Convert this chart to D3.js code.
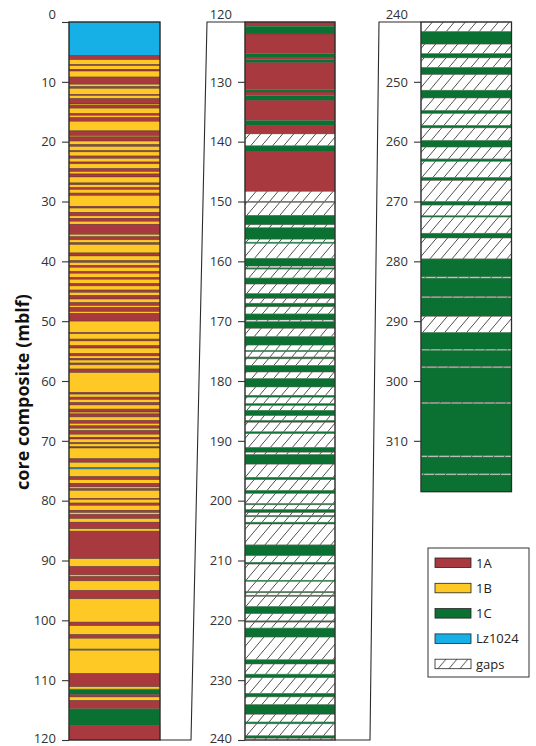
<!DOCTYPE html>
<html>
<head>
<meta charset="utf-8">
<script src="https://cdn.jsdelivr.net/npm/d3@7"></script>
<style>
  body { margin: 0; background: #fff; }
  svg { display: block; font-family: "Open Sans", sans-serif; }
</style>
</head>
<body>
<svg id="chart" width="536" height="746"></svg>
<script>
// lithostratigraphic units shown in the legend
const units = ["1A", "1B", "1C", "Lz1024", "gaps"];

// core segments: [top depth, bottom depth, unit]
const column1 = [
  [0, 5.6, "Lz1024"],
  [5.6, 6.3, "1A"], [6.3, 7.1, "1B"], [7.1, 7.3, "1A"], [7.3, 7.9, "1B"], [7.9, 8.2, "1A"],
  [8.2, 9.2, "1B"], [9.2, 10.4, "1A"], [10.4, 10.8, "1B"], [10.8, 11.1, "1A"], [11.1, 12.1, "1B"],
  [12.1, 12.3, "1A"], [12.3, 12.8, "1B"], [12.8, 13.7, "1A"], [13.7, 13.9, "1B"], [13.9, 14.4, "1A"],
  [14.4, 15.3, "1B"], [15.3, 15.6, "1A"], [15.6, 16.0, "1B"], [16.0, 16.6, "1A"], [16.6, 18.2, "1B"],
  [18.2, 19.0, "1A"], [19.0, 19.2, "1B"], [19.2, 19.9, "1A"], [19.9, 20.5, "1B"], [20.5, 20.8, "1A"],
  [20.8, 21.5, "1B"], [21.5, 21.7, "1A"], [21.7, 22.4, "1B"], [22.4, 22.8, "1A"], [22.8, 23.4, "1B"],
  [23.4, 23.7, "1A"], [23.7, 24.5, "1B"], [24.5, 25.0, "1A"], [25.0, 25.4, "1B"], [25.4, 25.9, "1A"],
  [25.9, 26.9, "1B"], [26.9, 27.2, "1A"], [27.2, 27.7, "1B"], [27.7, 28.0, "1A"], [28.0, 28.6, "1B"],
  [28.6, 29.0, "1A"], [29.0, 30.8, "1B"], [30.8, 31.1, "1A"], [31.1, 31.8, "1B"], [31.8, 32.4, "1A"],
  [32.4, 32.8, "1B"], [32.8, 33.3, "1A"], [33.3, 33.8, "1B"], [33.8, 35.5, "1A"], [35.5, 35.9, "1B"],
  [35.9, 36.4, "1A"], [36.4, 36.9, "1B"], [36.9, 37.2, "1A"], [37.2, 38.6, "1B"], [38.6, 39.1, "1A"],
  [39.1, 39.9, "1B"], [39.9, 40.2, "1A"], [40.2, 40.7, "1B"], [40.7, 41.0, "1A"], [41.0, 41.7, "1B"],
  [41.7, 42.0, "1A"], [42.0, 42.7, "1B"], [42.7, 43.0, "1A"], [43.0, 43.7, "1B"], [43.7, 44.1, "1A"],
  [44.1, 44.8, "1B"], [44.8, 45.2, "1A"], [45.2, 45.7, "1B"], [45.7, 46.3, "1A"], [46.3, 46.9, "1B"],
  [46.9, 47.4, "1A"], [47.4, 47.7, "1B"], [47.7, 48.4, "1A"], [48.4, 48.7, "1B"], [48.7, 50.0, "1A"],
  [50.0, 51.9, "1B"], [51.9, 52.1, "1A"], [52.1, 53.0, "1B"], [53.0, 53.3, "1A"], [53.3, 54.1, "1B"],
  [54.1, 54.5, "1A"], [54.5, 55.4, "1B"], [55.4, 55.8, "1A"], [55.8, 56.2, "1B"], [56.2, 56.5, "1A"],
  [56.5, 57.0, "1B"], [57.0, 57.3, "1A"], [57.3, 58.0, "1B"], [58.0, 58.6, "1A"], [58.6, 61.9, "1B"],
  [61.9, 62.2, "1A"], [62.2, 62.7, "1B"], [62.7, 63.1, "1A"], [63.1, 63.6, "1B"], [63.6, 64.0, "1A"],
  [64.0, 64.7, "1B"], [64.7, 65.2, "1A"], [65.2, 65.5, "1B"], [65.5, 66.0, "1A"], [66.0, 66.6, "1B"],
  [66.6, 67.1, "1A"], [67.1, 67.5, "1B"], [67.5, 67.9, "1A"], [67.9, 68.3, "1B"], [68.3, 68.9, "1A"],
  [68.9, 69.4, "1B"], [69.4, 69.7, "1A"], [69.7, 70.3, "1B"], [70.3, 70.5, "1A"], [70.5, 71.0, "1B"],
  [71.0, 71.2, "1A"], [71.2, 73.0, "1B"], [73.0, 73.6, "1A"], [73.6, 74.5, "1B"], [74.5, 74.7, "Lz1024"],
  [74.7, 76.0, "1B"], [76.0, 76.5, "1A"], [76.5, 77.1, "1B"], [77.1, 77.7, "1A"], [77.7, 78.0, "1B"],
  [78.0, 78.3, "1A"], [78.3, 79.6, "1B"], [79.6, 79.8, "1A"], [79.8, 80.4, "1B"], [80.4, 80.8, "1A"],
  [80.8, 81.6, "1B"], [81.6, 82.0, "1A"], [82.0, 82.3, "1B"], [82.3, 83.0, "1A"], [83.0, 83.6, "1B"],
  [83.6, 84.7, "1A"], [84.7, 85.1, "1B"], [85.1, 89.7, "1A"], [89.7, 91.0, "1B"], [91.0, 92.4, "1A"],
  [92.4, 92.7, "1B"], [92.7, 93.4, "1A"], [93.4, 95.0, "1B"], [95.0, 96.4, "1A"], [96.4, 100.3, "1B"],
  [100.3, 100.9, "1A"], [100.9, 102.4, "1B"], [102.4, 103.0, "1A"], [103.0, 104.8, "1B"], [104.8, 105.0, "1C"],
  [105.0, 108.9, "1B"], [108.9, 111.1, "1A"], [111.1, 111.5, "1B"], [111.5, 112.4, "1C"], [112.4, 112.8, "1A"],
  [112.8, 113.4, "1B"], [113.4, 114.8, "1A"], [114.8, 117.6, "1C"], [117.6, 120, "1A"]
];

const column2 = [
  [120, 120.7, "1A"], [120.7, 122.0, "1C"], [122.0, 125.3, "1A"], [125.3, 125.9, "1C"], [125.9, 126.3, "1A"],
  [126.3, 126.8, "1C"], [126.8, 131.3, "1A"], [131.3, 131.7, "1C"], [131.7, 132.3, "1A"], [132.3, 133.1, "1C"],
  [133.1, 136.5, "1A"], [136.5, 137.3, "1C"], [137.3, 138.7, "1A"], [138.7, 140.7, "gaps"], [140.7, 141.6, "1C"],
  [141.6, 148.3, "1A"], [148.3, 150.0, "gaps"], [150.0, 150.15, "1C"], [150.15, 152.3, "gaps"], [152.3, 153.9, "1C"],
  [153.9, 154.4, "gaps"], [154.4, 156.3, "1C"], [156.3, 156.8, "gaps"], [156.8, 157.0, "1C"], [157.0, 159.5, "gaps"],
  [159.5, 160.8, "1C"], [160.8, 161.1, "gaps"], [161.1, 161.3, "1C"], [161.3, 162.8, "gaps"], [162.8, 163.8, "1C"],
  [163.8, 165.4, "gaps"], [165.4, 166.2, "1C"], [166.2, 167.0, "gaps"], [167.0, 167.6, "1C"], [167.6, 168.8, "gaps"],
  [168.8, 169.8, "1C"], [169.8, 170.1, "gaps"], [170.1, 171.2, "1C"], [171.2, 172.6, "gaps"], [172.6, 174.0, "1C"],
  [174.0, 174.9, "gaps"], [174.9, 175.1, "1C"], [175.1, 176.0, "gaps"], [176.0, 176.3, "1C"], [176.3, 177.4, "gaps"],
  [177.4, 178.5, "1C"], [178.5, 179.6, "gaps"], [179.6, 181.0, "1C"], [181.0, 182.4, "gaps"], [182.4, 182.7, "1C"],
  [182.7, 183.8, "gaps"], [183.8, 184.1, "1C"], [184.1, 184.9, "gaps"], [184.9, 185.8, "1C"], [185.8, 186.6, "gaps"],
  [186.6, 186.9, "1C"], [186.9, 188.5, "gaps"], [188.5, 188.8, "1C"], [188.8, 191.1, "gaps"], [191.1, 191.9, "1C"],
  [191.9, 192.3, "gaps"], [192.3, 193.9, "1C"], [193.9, 196.1, "gaps"], [196.1, 196.5, "1C"], [196.5, 198.3, "gaps"],
  [198.3, 198.8, "1C"], [198.8, 200.5, "gaps"], [200.5, 200.7, "1C"], [200.7, 201.5, "gaps"], [201.5, 202.0, "1C"],
  [202.0, 202.5, "gaps"], [202.5, 202.7, "1C"], [202.7, 203.6, "gaps"], [203.6, 203.9, "1C"], [203.9, 207.4, "gaps"],
  [207.4, 209.2, "1C"], [209.2, 210.3, "gaps"], [210.3, 210.6, "1C"], [210.6, 213.3, "gaps"], [213.3, 213.5, "1C"],
  [213.5, 215.2, "gaps"], [215.2, 215.4, "1C"], [215.4, 215.8, "gaps"], [215.8, 216.0, "1C"], [216.0, 217.7, "gaps"],
  [217.7, 218.9, "1C"], [218.9, 220.1, "gaps"], [220.1, 220.3, "1C"], [220.3, 221.3, "gaps"], [221.3, 222.8, "1C"],
  [222.8, 226.6, "gaps"], [226.6, 227.3, "1C"], [227.3, 229.0, "gaps"], [229.0, 229.6, "1C"], [229.6, 232.2, "gaps"],
  [232.2, 232.8, "1C"], [232.8, 234.1, "gaps"], [234.1, 235.7, "1C"], [235.7, 237.0, "gaps"], [237.0, 237.3, "1C"],
  [237.3, 239.3, "gaps"], [239.3, 239.7, "1C"], [239.7, 240, "gaps"]
];

const column3 = [
  [240, 241.6, "gaps"], [241.6, 243.7, "1C"], [243.7, 245.3, "gaps"], [245.3, 246.0, "1C"], [246.0, 247.6, "gaps"],
  [247.6, 248.8, "1C"], [248.8, 251.4, "gaps"], [251.4, 252.7, "1C"], [252.7, 254.8, "gaps"], [254.8, 255.3, "1C"],
  [255.3, 257.3, "gaps"], [257.3, 257.7, "1C"], [257.7, 259.8, "gaps"], [259.8, 260.9, "1C"], [260.9, 262.9, "gaps"],
  [262.9, 263.3, "1C"], [263.3, 266.0, "gaps"], [266.0, 266.5, "1C"], [266.5, 270.0, "gaps"], [270.0, 270.6, "1C"],
  [270.6, 272.4, "gaps"], [272.4, 272.6, "1C"], [272.6, 275.3, "gaps"], [275.3, 276.1, "1C"], [276.1, 279.6, "gaps"],
  [279.6, 282.6, "1C"], [282.6, 282.8, "gaps"], [282.8, 285.9, "1C"], [285.9, 286.1, "gaps"], [286.1, 289.2, "1C"],
  [289.2, 291.9, "gaps"], [291.9, 294.7, "1C"], [294.7, 294.9, "gaps"], [294.9, 297.6, "1C"], [297.6, 297.8, "gaps"],
  [297.8, 303.6, "1C"], [303.6, 303.8, "gaps"], [303.8, 312.5, "1C"], [312.5, 312.7, "gaps"], [312.7, 315.5, "1C"],
  [315.5, 315.7, "gaps"], [315.7, 318.5, "1C"]
];

// tick labels of each column
const ticks1 = d3.range(0, 121, 10);
const ticks2 = d3.range(120, 241, 10);
const ticks3 = d3.range(240, 311, 10);

const fills = { "1A": "#a8393f", "1B": "#fec925", "1C": "#0b7133", "Lz1024": "#17b0e6", "gaps": "url(#hatch)" };

const svg = d3.select("#chart");

// diagonal hatching for gaps
const pat = svg.append("defs").append("pattern")
    .attr("id", "hatch")
    .attr("patternUnits", "userSpaceOnUse")
    .attr("width", 11)
    .attr("height", 13);
pat.append("rect").attr("width", 11).attr("height", 13).attr("fill", "#fff");
pat.append("path")
    .attr("d", "M-2,15.4 L13,-2.4")
    .attr("stroke", "#222")
    .attr("stroke-width", 0.8);

const yTop = 22, yBottom = 740;
const panels = [
  { data: column1, ticks: ticks1, x0: 69, x1: 160, start: 0 },
  { data: column2, ticks: ticks2, x0: 245, x1: 335, start: 120 },
  { data: column3, ticks: ticks3, x0: 421, x1: 511.5, start: 240 }
];

panels.forEach((p) => {
  const y = d3.scaleLinear()
      .domain([p.start, p.start + 120])
      .range([yTop, yBottom]);

  const g = svg.append("g");

  g.selectAll("rect.seg")
    .data(p.data)
    .enter().append("rect")
      .attr("class", "seg")
      .attr("x", p.x0)
      .attr("width", p.x1 - p.x0)
      .attr("y", (d) => y(d[0]))
      .attr("height", (d) => y(d[1]) - y(d[0]))
      .attr("fill", (d) => fills[d[2]])
      .attr("stroke", (d) => d[2] === "1C" ? "#5c9a72" : "#4a3330")
      .attr("stroke-width", 0.5)
      .attr("stroke-opacity", 0.8);

  // column outline
  const last = p.data[p.data.length - 1][1];
  g.append("rect")
    .attr("x", p.x0)
    .attr("y", yTop)
    .attr("width", p.x1 - p.x0)
    .attr("height", y(last) - yTop)
    .attr("fill", "none")
    .attr("stroke", "#2b2b2b")
    .attr("stroke-width", 1.3);

  // depth axis
  const axis = g.append("g")
    .attr("transform", "translate(" + p.x0 + ",0)")
    .call(d3.axisLeft(y).tickValues(p.ticks).tickSize(7).tickPadding(6));
  axis.select(".domain").remove();
  axis.selectAll("line").attr("stroke", "#333").attr("stroke-width", 1.1);
  axis.selectAll("text")
    .attr("font-family", "'Open Sans', sans-serif")
    .attr("font-size", 13)
    .attr("fill", "#333");
  // top label sits just above the column, bottom one just fits the frame
  axis.selectAll(".tick")
    .filter((d) => d === p.start)
    .select("text")
    .attr("dy", "-0.25em");
  axis.selectAll(".tick")
    .filter((d) => d === p.start + 120)
    .select("text")
    .attr("dy", "0.22em");
  if (p.start > 0) {
    axis.selectAll(".tick").filter((d) => d === p.start).select("line").remove();
  }
});

// brackets linking each column bottom to the next column top
const link = d3.line();
[
  [[160, yBottom], [191, yBottom], [207, yTop], [245, yTop]],
  [[335, yBottom], [370, yBottom], [379, yTop], [421, yTop]]
].forEach((pts) => {
  svg.append("path")
    .attr("d", link(pts))
    .attr("fill", "none")
    .attr("stroke", "#2b2b2b")
    .attr("stroke-width", 1.1);
});

// y axis title
svg.append("text")
  .attr("transform", "translate(29,392) rotate(-90)")
  .attr("text-anchor", "middle")
  .attr("font-family", "'Open Sans', sans-serif")
  .attr("font-weight", "bold")
  .attr("font-size", 18)
  .attr("fill", "#111")
  .text("core composite (mblf)");

// legend
const lg = svg.append("g").attr("transform", "translate(428,548)");
lg.append("rect")
  .attr("width", 101)
  .attr("height", 129)
  .attr("fill", "#fff")
  .attr("stroke", "#333")
  .attr("stroke-width", 1);

const item = lg.selectAll("g.item")
  .data(units)
  .enter().append("g")
    .attr("class", "item")
    .attr("transform", (d, i) => "translate(7," + (10 + i * 25.3) + ")");
item.append("rect")
  .attr("width", 36)
  .attr("height", 9.5)
  .attr("fill", (d) => fills[d])
  .attr("stroke", "#222")
  .attr("stroke-width", 0.8);
item.append("text")
  .attr("x", 41)
  .attr("y", 5)
  .attr("dy", "0.35em")
  .attr("font-family", "'Open Sans', sans-serif")
  .attr("font-size", 13)
  .attr("fill", "#222")
  .text((d) => d);
</script>
</body>
</html>
